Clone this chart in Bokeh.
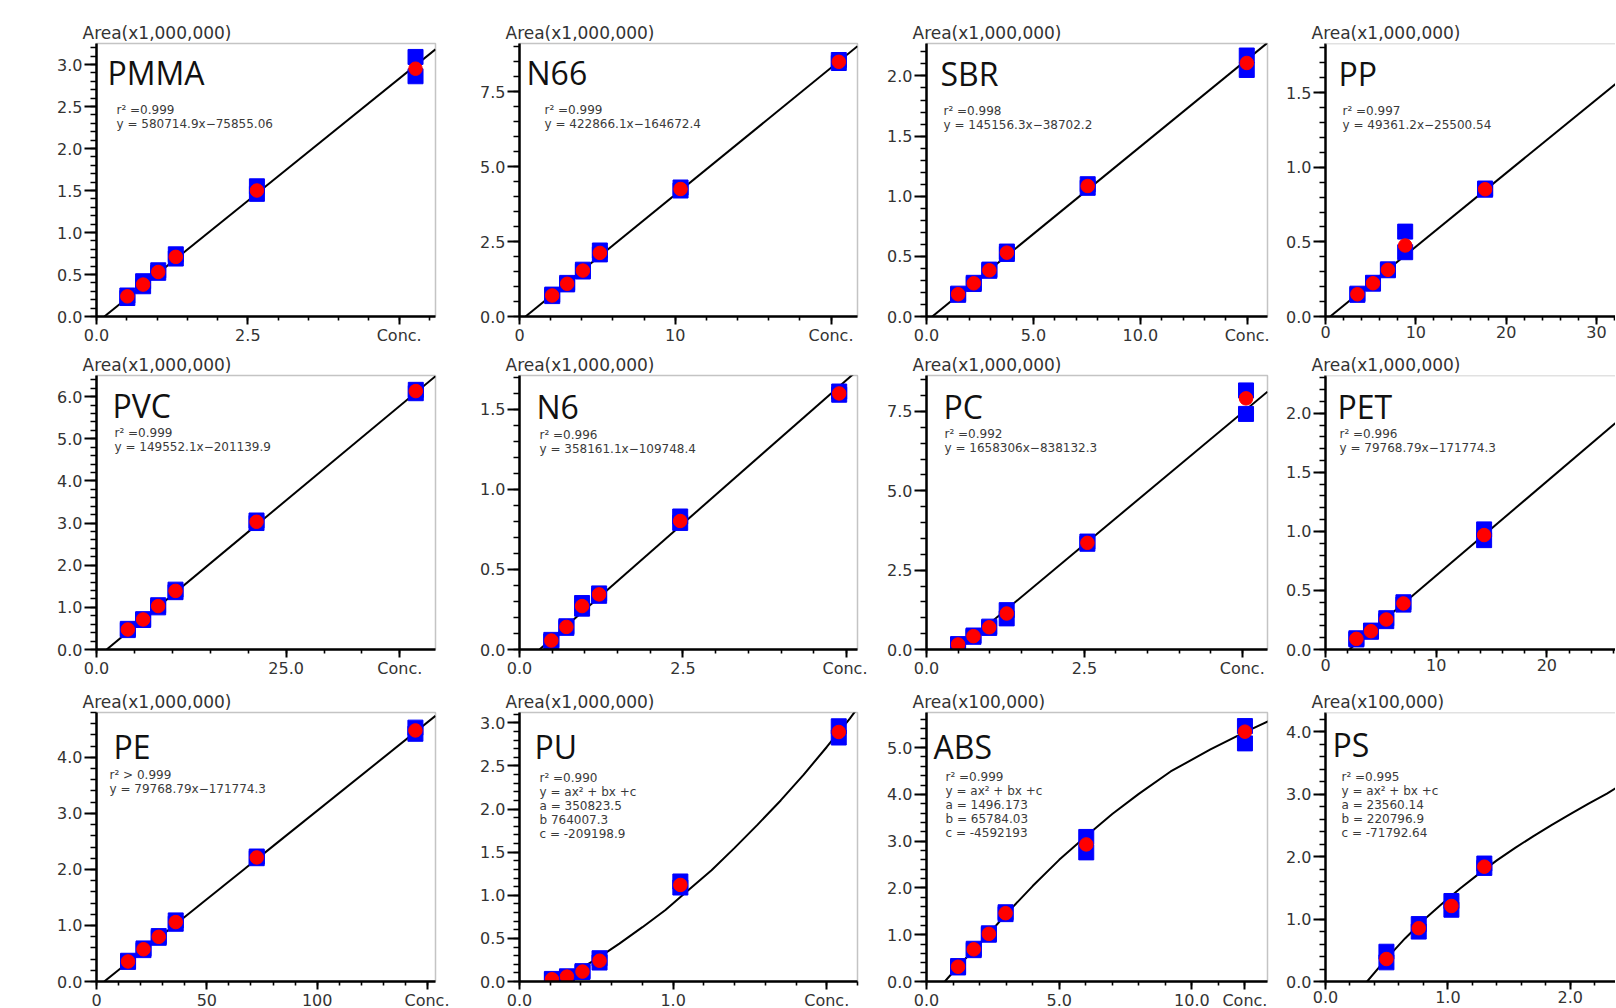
import numpy as np
from bokeh.plotting import figure
from bokeh.layouts import column, row
from bokeh.models import Range1d, FixedTicker, Label, Span, PrintfTickFormatter
from bokeh.embed import file_html
from bokeh.resources import INLINE

# ---------------- data ----------------
# blue squares = replicate injections (rep_a, rep_b), red circles = mean
pmma_conc = [0.51, 0.77, 1.02, 1.31, 2.65, 5.27]
pmma_mean = [0.24, 0.38, 0.53, 0.71, 1.50, 2.95]
pmma_rep_a = [0.22, 0.36, 0.52, 0.69, 1.46, 3.09]
pmma_rep_b = [0.25, 0.42, 0.55, 0.74, 1.55, 2.86]
pmma_fit_x = [0.13, 5.6]
pmma_fit_y = [0.0, 3.18]
pmma_eq = ["r² =0.999", "y = 580714.9x\u221275855.06"]

n66_conc = [2.10, 3.06, 4.07, 5.16, 10.34, 20.5]
n66_mean = [0.70, 1.09, 1.53, 2.12, 4.25, 8.49]
n66_rep_a = [0.68, 1.07, 1.50, 2.07, 4.20, 8.45]
n66_rep_b = [0.73, 1.12, 1.56, 2.20, 4.30, 8.55]
n66_fit_x = [0.39, 21.7]
n66_fit_y = [0.0, 9.01]
n66_eq = ["r² =0.999", "y = 422866.1x\u2212164672.4"]

sbr_conc = [1.48, 2.21, 2.94, 3.76, 7.54, 14.98]
sbr_mean = [0.185, 0.276, 0.384, 0.531, 1.085, 2.108]
sbr_rep_a = [0.18, 0.27, 0.38, 0.52, 1.07, 2.05]
sbr_rep_b = [0.19, 0.28, 0.39, 0.54, 1.10, 2.17]
sbr_fit_x = [0.27, 15.95]
sbr_fit_y = [0.0, 2.276]
sbr_eq = ["r² =0.998", "y = 145156.3x\u221238702.2"]

pp_conc = [3.53, 5.26, 6.91, 8.82, 17.67]
pp_mean = [0.149, 0.223, 0.313, 0.476, 0.853]
pp_rep_a = [0.145, 0.22, 0.31, 0.431, 0.85]
pp_rep_b = [0.153, 0.226, 0.316, 0.569, 0.858]
pp_fit_x = [0.52, 32.1]
pp_fit_y = [0.0, 1.559]
pp_eq = ["r² =0.997", "y = 49361.2x\u221225500.54"]

pvc_conc = [4.13, 6.15, 8.13, 10.42, 21.1, 42.1]
pvc_mean = [0.475, 0.713, 1.03, 1.39, 3.03, 6.13]
pvc_rep_a = [0.46, 0.70, 1.00, 1.36, 3.00, 6.08]
pvc_rep_b = [0.49, 0.72, 1.05, 1.42, 3.06, 6.16]
pvc_fit_x = [1.345, 44.7]
pvc_fit_y = [0.0, 6.484]
pvc_eq = ["r² =0.999", "y = 149552.1x\u2212201139.9"]

n6_conc = [0.487, 0.717, 0.957, 1.218, 2.458, 4.89]
n6_mean = [0.056, 0.141, 0.271, 0.344, 0.802, 1.598]
n6_rep_a = [0.05, 0.135, 0.255, 0.335, 0.79, 1.59]
n6_rep_b = [0.06, 0.145, 0.29, 0.35, 0.83, 1.61]
n6_fit_x = [0.306, 5.17]
n6_fit_y = [0.0, 1.742]
n6_eq = ["r² =0.996", "y = 358161.1x\u2212109748.4"]

pc_conc = [0.50, 0.744, 0.993, 1.27, 2.548, 5.06]
pc_mean = [0.158, 0.42, 0.70, 1.134, 3.36, 7.91]
pc_rep_a = [0.14, 0.40, 0.68, 0.98, 3.33, 7.42]
pc_rep_b = [0.17, 0.44, 0.72, 1.24, 3.40, 8.16]
pc_fit_x = [0.505, 5.4]
pc_fit_y = [0.0, 8.12]
pc_eq = ["r² =0.992", "y = 1658306x\u2212838132.3"]

pet_conc = [2.79, 4.11, 5.49, 7.04, 14.33]
pet_mean = [0.09, 0.155, 0.254, 0.39, 0.969]
pet_rep_a = [0.085, 0.15, 0.24, 0.38, 0.926]
pet_rep_b = [0.095, 0.16, 0.265, 0.40, 1.017]
pet_fit_x = [2.153, 26.2]
pet_fit_y = [0.0, 1.918]
pet_eq = ["r² =0.996", "y = 79768.79x\u2212171774.3"]

pe_conc = [14.3, 21.3, 28.2, 35.9, 72.6, 144.5]
pe_mean = [0.357, 0.575, 0.797, 1.06, 2.214, 4.48]
pe_rep_a = [0.35, 0.56, 0.78, 1.03, 2.20, 4.42]
pe_rep_b = [0.37, 0.59, 0.81, 1.09, 2.23, 4.53]
pe_fit_x = [3.5, 153.6]
pe_fit_y = [0.0, 4.74]
pe_eq = ["r² > 0.999", "y = 79768.79x\u2212171774.3"]

pu_conc = [0.211, 0.309, 0.41, 0.521, 1.047, 2.078]
pu_mean = [0.026, 0.057, 0.115, 0.241, 1.12, 2.894]
pu_rep_a = [0.02, 0.05, 0.11, 0.22, 1.09, 2.83]
pu_rep_b = [0.03, 0.06, 0.12, 0.27, 1.16, 2.96]
pu_fit_x = [0.23, 0.35, 0.5, 0.65, 0.8, 0.95, 1.1, 1.25, 1.4, 1.55, 1.7, 1.85, 2.0, 2.15, 2.2]
pu_fit_y = [0.0, 0.10, 0.26, 0.44, 0.63, 0.83, 1.06, 1.29, 1.55, 1.82, 2.10, 2.40, 2.72, 3.05, 3.17]
pu_eq = ["r² =0.990", "y = ax² + bx +c", "a = 350823.5", "b 764007.3", "c = -209198.9"]

abs_conc = [1.19, 1.78, 2.35, 2.98, 6.02, 12.0]
abs_mean = [0.316, 0.688, 1.018, 1.46, 2.93, 5.34]
abs_rep_a = [0.30, 0.67, 1.00, 1.44, 2.76, 5.09]
abs_rep_b = [0.33, 0.70, 1.03, 1.48, 3.09, 5.46]
abs_fit_x = [0.69, 1.19, 2.35, 2.98, 4.0, 5.0, 6.02, 7.0, 8.0, 9.2, 10.7, 12.0, 12.9]
abs_fit_y = [0.0, 0.32, 1.02, 1.43, 2.04, 2.60, 3.11, 3.58, 4.01, 4.49, 4.96, 5.33, 5.57]
abs_eq = ["r² =0.999", "y = ax² + bx +c", "a = 1496.173", "b =  65784.03", "c = -4592193"]

ps_conc = [0.498, 0.762, 1.029, 1.298]
ps_mean = [0.36, 0.854, 1.21, 1.84]
ps_rep_a = [0.307, 0.80, 1.15, 1.82]
ps_rep_b = [0.477, 0.92, 1.29, 1.89]
ps_fit_x = [0.34, 0.50, 0.65, 0.80, 0.95, 1.10, 1.25, 1.40, 1.55, 1.70, 1.85, 2.00, 2.15, 2.30, 2.375]
ps_fit_y = [0.0, 0.37, 0.69, 0.98, 1.24, 1.49, 1.72, 1.94, 2.14, 2.33, 2.51, 2.68, 2.85, 3.01, 3.10]
ps_eq = ["r² =0.995", "y = ax² + bx +c", "a = 23560.14", "b =  220796.9", "c = -71792.64"]

UNIT_M = "Area(x1,000,000)"
UNIT_K = "Area(x100,000)"

# ---------------- panel configuration ----------------
PANELS = [
    # row 1
    dict(name="PMMA", unit=UNIT_M, conc=pmma_conc, mean=pmma_mean, ra=pmma_rep_a, rb=pmma_rep_b,
         fx=pmma_fit_x, fy=pmma_fit_y, eq=pmma_eq, xmax=5.6, ymax=3.25,
         xt=[0, 2.5, 5.0], xl=["0.0", "2.5", "Conc."], xminor=0.5, ymajor=0.5, yminor=0.1,
         tpos=(11, 29), epos=(20, 66)),
    dict(name="N66", unit=UNIT_M, conc=n66_conc, mean=n66_mean, ra=n66_rep_a, rb=n66_rep_b,
         fx=n66_fit_x, fy=n66_fit_y, eq=n66_eq, xmax=21.7, ymax=9.1,
         xt=[0, 10, 20], xl=["0", "10", "Conc."], xminor=2, ymajor=2.5, yminor=0.5,
         tpos=(7, 29), epos=(25, 66)),
    dict(name="SBR", unit=UNIT_M, conc=sbr_conc, mean=sbr_mean, ra=sbr_rep_a, rb=sbr_rep_b,
         fx=sbr_fit_x, fy=sbr_fit_y, eq=sbr_eq, xmax=15.95, ymax=2.27,
         xt=[0, 5, 10, 15], xl=["0.0", "5.0", "10.0", "Conc."], xminor=1, ymajor=0.5, yminor=0.1,
         tpos=(14, 30), epos=(17, 67)),
    dict(name="PP", unit=UNIT_M, conc=pp_conc, mean=pp_mean, ra=pp_rep_a, rb=pp_rep_b,
         fx=pp_fit_x, fy=pp_fit_y, eq=pp_eq, xmax=32.1, ymax=1.83,
         xt=[0, 10, 20, 30], xl=["0", "10", "20", "30"], xminor=2, ymajor=0.5, yminor=0.1,
         tpos=(13, 30), epos=(17, 67)),
    # row 2
    dict(name="PVC", unit=UNIT_M, conc=pvc_conc, mean=pvc_mean, ra=pvc_rep_a, rb=pvc_rep_b,
         fx=pvc_fit_x, fy=pvc_fit_y, eq=pvc_eq, xmax=44.7, ymax=6.5,
         xt=[0, 25, 40], xl=["0.0", "25.0", "Conc."], xminor=5, ymajor=1.0, yminor=0.2,
         tpos=(16, 30), epos=(18, 57)),
    dict(name="N6", unit=UNIT_M, conc=n6_conc, mean=n6_mean, ra=n6_rep_a, rb=n6_rep_b,
         fx=n6_fit_x, fy=n6_fit_y, eq=n6_eq, xmax=5.17, ymax=1.71,
         xt=[0, 2.5, 5.0], xl=["0.0", "2.5", "Conc."], xminor=0.5, ymajor=0.5, yminor=0.1,
         tpos=(17, 31), epos=(20, 59)),
    dict(name="PC", unit=UNIT_M, conc=pc_conc, mean=pc_mean, ra=pc_rep_a, rb=pc_rep_b,
         fx=pc_fit_x, fy=pc_fit_y, eq=pc_eq, xmax=5.4, ymax=8.63,
         xt=[0, 2.5, 5.0], xl=["0.0", "2.5", "Conc."], xminor=0.5, ymajor=2.5, yminor=0.5,
         tpos=(17, 31), epos=(18, 58)),
    dict(name="PET", unit=UNIT_M, conc=pet_conc, mean=pet_mean, ra=pet_rep_a, rb=pet_rep_b,
         fx=pet_fit_x, fy=pet_fit_y, eq=pet_eq, xmax=26.2, ymax=2.32,
         xt=[0, 10, 20], xl=["0", "10", "20"], xminor=2, ymajor=0.5, yminor=0.1,
         tpos=(12, 31), epos=(14, 58)),
    # row 3
    dict(name="PE", unit=UNIT_M, conc=pe_conc, mean=pe_mean, ra=pe_rep_a, rb=pe_rep_b,
         fx=pe_fit_x, fy=pe_fit_y, eq=pe_eq, xmax=153.6, ymax=4.8,
         xt=[0, 50, 100, 150], xl=["0", "50", "100", "Conc."], xminor=10, ymajor=1.0, yminor=0.2,
         tpos=(17, 34), epos=(13, 62)),
    dict(name="PU", unit=UNIT_M, conc=pu_conc, mean=pu_mean, ra=pu_rep_a, rb=pu_rep_b,
         fx=pu_fit_x, fy=pu_fit_y, eq=pu_eq, xmax=2.2, ymax=3.12,
         xt=[0, 1.0, 2.0], xl=["0.0", "1.0", "Conc."], xminor=0.2, ymajor=0.5, yminor=0.1,
         tpos=(15, 34), epos=(20, 65)),
    dict(name="ABS", unit=UNIT_K, conc=abs_conc, mean=abs_mean, ra=abs_rep_a, rb=abs_rep_b,
         fx=abs_fit_x, fy=abs_fit_y, eq=abs_eq, xmax=12.85, ymax=5.75,
         xt=[0, 5, 10, 12], xl=["0.0", "5.0", "10.0", "Conc."], xminor=1, ymajor=1.0, yminor=0.2,
         tpos=(7, 34), epos=(19, 64)),
    dict(name="PS", unit=UNIT_K, conc=ps_conc, mean=ps_mean, ra=ps_rep_a, rb=ps_rep_b,
         fx=ps_fit_x, fy=ps_fit_y, eq=ps_eq, xmax=2.37, ymax=4.31,
         xt=[0, 1.0, 2.0], xl=["0.0", "1.0", "2.0"], xminor=0.2, ymajor=1.0, yminor=0.2,
         tpos=(7, 32), epos=(16, 64)),
]

# (min_border_left, frame_width, min_border_right) per column -> 1615 px wide
COLS = [(96, 339, 14), (70, 338, 10), (59, 341, 8), (50, 290, 0)]
# (min_border_top, frame_height, min_border_bottom) per row -> 1007 px high
ROWS = [(43, 273, 30), (28, 274, 30), (32, 269, 28)]

TICK_FONT = "DejaVu Sans"
TEXT_COLOR = "#333333"
GRAY = "#c4c4c4"


def steps(step, end):
    n = int(np.floor(end / step + 1e-9))
    return [round(i * step, 6) for i in range(n + 1)]


def make_panel(pn, ci, ri):
    L, FW, R = COLS[ci]
    T, FH, B = ROWS[ri]
    xmax, ymax = pn["xmax"], pn["ymax"]
    p = figure(frame_width=FW, frame_height=FH,
               min_border_left=L, min_border_right=R, min_border_top=T, min_border_bottom=B,
               x_range=Range1d(0, xmax), y_range=Range1d(0, ymax),
               output_backend="svg", toolbar_location=None, tools="",
               background_fill_color="white", border_fill_color="white")
    p.grid.visible = False

    # y unit label as the title
    p.title.text = pn["unit"]
    p.title.align = "left"
    p.title.offset = -14
    p.title.standoff = 1
    p.title.text_font = TICK_FONT
    p.title.text_font_size = "17px"
    p.title.text_font_style = "normal"
    p.title.text_color = TEXT_COLOR

    if ci == 3:
        p.outline_line_color = None
        p.add_layout(Span(location=ymax, dimension="width", line_color=GRAY, line_width=1.5))
    else:
        p.outline_line_color = GRAY
        p.outline_line_width = 1.5

    xa = p.xaxis[0]
    ya = p.yaxis[0]
    xa.ticker = FixedTicker(ticks=pn["xt"], minor_ticks=steps(pn["xminor"], xmax))
    xa.major_label_overrides = {t: lab for t, lab in zip(pn["xt"], pn["xl"])}
    ya.ticker = FixedTicker(ticks=steps(pn["ymajor"], ymax), minor_ticks=steps(pn["yminor"], ymax))
    ya.formatter = PrintfTickFormatter(format="%.1f")
    for ax in (xa, ya):
        ax.axis_line_width = 2.5
        ax.axis_line_color = "black"
        ax.major_tick_line_width = 2
        ax.major_tick_line_color = "black"
        ax.minor_tick_line_width = 1.6
        ax.minor_tick_line_color = "black"
        ax.major_tick_in = 0
        ax.minor_tick_in = 0
        ax.major_label_text_font = TICK_FONT
        ax.major_label_text_font_size = "16px"
        ax.major_label_text_color = TEXT_COLOR
    xa.major_tick_out = 8
    xa.minor_tick_out = 4
    xa.major_label_standoff = 1
    ya.major_tick_out = 12
    ya.minor_tick_out = 6
    ya.major_label_standoff = 2

    # fitted calibration line
    p.line(pn["fx"], pn["fy"], line_color="black", line_width=2)
    # replicates (blue squares) and mean (red circles)
    for reps in (pn["ra"], pn["rb"]):
        p.scatter(pn["conc"], reps, marker="square", size=15,
                  fill_color="#0000ff", line_color="#0000ff")
    p.scatter(pn["conc"], pn["mean"], marker="circle", size=13.5,
              fill_color="#ff0000", line_color="#ff0000")

    # polymer name
    tdx, tdy = pn["tpos"]
    p.add_layout(Label(x=tdx / FW * xmax, y=ymax * (1 - tdy / FH), text=pn["name"],
                       text_font="Open Sans", text_font_size="32px", text_color="#111111",
                       text_align="left", text_baseline="middle"))
    # regression text
    edx, edy = pn["epos"]
    for i, line in enumerate(pn["eq"]):
        p.add_layout(Label(x=edx / FW * xmax, y=ymax * (1 - (edy + i * 14.2) / FH), text=line,
                           text_font="DejaVu Sans", text_font_size="12px", text_color="#3a3a3a",
                           text_align="left", text_baseline="middle"))
    return p


rows = []
for ri in range(3):
    figs = [make_panel(PANELS[ri * 4 + ci], ci, ri) for ci in range(4)]
    rows.append(row(*figs, spacing=0))
layout = column(*rows, spacing=0)

open("out.html", "w").write(file_html(layout, INLINE, "Calibration curves"))
